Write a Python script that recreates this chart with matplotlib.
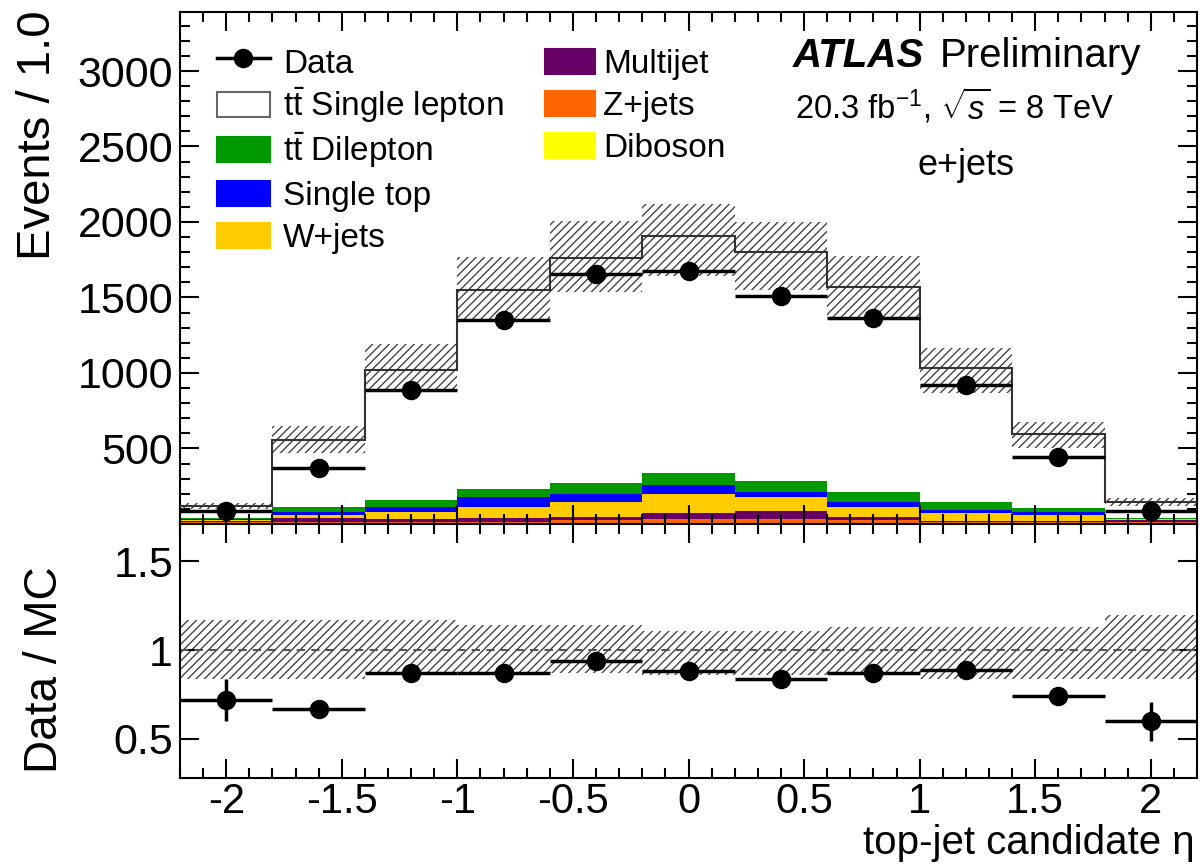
import numpy as np
import matplotlib
matplotlib.use("Agg")
from matplotlib import pyplot as plt
from matplotlib.patches import Patch, Rectangle
from matplotlib.lines import Line2D
from matplotlib.legend_handler import HandlerPatch
from matplotlib.ticker import MultipleLocator

plt.rcParams['font.family'] = ['Liberation Sans', 'DejaVu Sans']
plt.rcParams['mathtext.fontset'] = 'custom'
plt.rcParams['mathtext.rm'] = 'Liberation Sans'
plt.rcParams['mathtext.it'] = 'Liberation Sans:italic'
plt.rcParams['hatch.linewidth'] = 1.0

# bins of top-jet candidate eta
bin_edges = [-2.2, -1.8, -1.4, -1.0, -0.6, -0.2, 0.2, 0.6, 1.0, 1.4, 1.8, 2.2]
bin_centers = [-2.0, -1.6, -1.2, -0.8, -0.4, 0.0, 0.4, 0.8, 1.2, 1.6, 2.0]

# MC contributions per bin (stacked bottom -> top)
diboson  = [3, 4, 5, 6, 7, 8, 7, 6, 5, 4, 3]
zjets    = [7, 11, 10, 9, 19, 23, 26, 20, 10, 11, 9]
multijet = [12, 23, 18, 23, 22, 40, 55, 18, 7, 5, 13]
wjets    = [5, 22, 44, 77, 100, 126, 93, 71, 49, 40, 5]
singletop = [6, 17, 38, 66, 49, 61, 33, 33, 22, 17, 5]
ttbar_dilep = [7, 34, 44, 49, 77, 82, 73, 66, 55, 27, 7]
ttbar_ljets = [77, 445, 861, 1320, 1488, 1567, 1514, 1356, 885, 492, 100]

# relative MC uncertainty (up, down)
unc_up = [0.17, 0.17, 0.17, 0.14, 0.14, 0.11, 0.11, 0.13, 0.13, 0.13, 0.20]
unc_dn = [0.16, 0.16, 0.13, 0.13, 0.13, 0.14, 0.14, 0.14, 0.16, 0.16, 0.16]

# data
data = [84, 373, 887, 1349, 1656, 1678, 1513, 1366, 919, 441, 85]
ratio = [0.72, 0.67, 0.87, 0.87, 0.94, 0.88, 0.84, 0.87, 0.89, 0.74, 0.60]
ratio_err = [0.12, 0.03, 0.02, 0.02, 0.02, 0.02, 0.02, 0.02, 0.02, 0.03, 0.11]

tt = r"t$\bar{\rm t}$"
components = [
    ("Diboson", diboson, "#ffff00"),
    ("Z+jets", zjets, "#ff6600"),
    ("Multijet", multijet, "#660066"),
    ("W+jets", wjets, "#ffcc00"),
    ("Single top", singletop, "#0000ff"),
    (tt + " Dilepton", ttbar_dilep, "#009900"),
    (tt + " Single lepton", ttbar_ljets, "white"),
]

fig = plt.figure(figsize=(12, 8.66), dpi=100)
ax = fig.add_axes([0.15, 0.395, 0.8475, 0.591])
rax = fig.add_axes([0.15, 0.1016, 0.8475, 0.2934])

x = np.array(bin_centers)
bottom = np.zeros(len(x))
for name, vals, col in components:
    ax.bar(x, vals, width=0.4, bottom=bottom, color=col, linewidth=0, zorder=1)
    bottom = bottom + np.array(vals)
total = bottom

ax.stairs(total, bin_edges, baseline=None, color="#333333", lw=1.5, zorder=3)
up = total * (1 + np.array(unc_up))
dn = total * (1 - np.array(unc_dn))
ax.bar(x, up - dn, width=0.4, bottom=dn, fill=False, hatch="////",
       edgecolor="#444444", linewidth=0, zorder=2)

ax.errorbar(x, data, xerr=0.2, yerr=np.sqrt(data), fmt="o", color="black",
            ms=13, elinewidth=2.5, capsize=0, zorder=5)

ax.set_xlim(-2.2, 2.2)
ax.set_ylim(0, 3390)
ax.xaxis.set_major_locator(MultipleLocator(0.5))
ax.xaxis.set_minor_locator(MultipleLocator(0.1))
ax.yaxis.set_minor_locator(MultipleLocator(100))
ax.set_yticks([500, 1000, 1500, 2000, 2500, 3000])
ax.tick_params(labelbottom=False)

# ratio panel
rax.bar(x, np.array(unc_up) + np.array(unc_dn), width=0.4, bottom=1 - np.array(unc_dn),
        fill=False, hatch="////", edgecolor="#444444", linewidth=0, zorder=1)
rax.axhline(1.0, color="#555555", lw=1.5, ls=(0, (4, 3)), zorder=2)
rax.errorbar(x, ratio, xerr=0.2, yerr=ratio_err, fmt="o", color="black",
             ms=13, elinewidth=2.5, capsize=0, zorder=5)
rax.set_xlim(-2.2, 2.2)
rax.set_ylim(0.28, 1.71)
rax.xaxis.set_minor_locator(MultipleLocator(0.1))
rax.set_yticks([0.5, 1.0, 1.5])
rax.set_yticklabels(["0.5", "1", "1.5"])
rax.set_xticks([-2, -1.5, -1, -0.5, 0, 0.5, 1, 1.5, 2])
rax.set_xticklabels(["-2", "-1.5", "-1", "-0.5", "0", "0.5", "1", "1.5", "2"])

for a in (ax, rax):
    for s in a.spines.values():
        s.set_linewidth(1.5)
    a.tick_params(which="both", direction="in", top=True, right=True,
                  labelsize=31, width=1.5, pad=5)
    a.tick_params(which="major", length=14)
    a.tick_params(which="minor", length=7)
rax.tick_params(axis="y", which="minor", left=False, right=False)
rax.tick_params(axis="x", labelsize=30, pad=3)


# legend boxes smaller than the row height so every row has the same spacing
def small_box(legend, orig_handle, xdescent, ydescent, width, height, fontsize):
    shrink = 0.16 * height
    return Rectangle((-xdescent, -ydescent + shrink), width, height - 2 * shrink)


h_data = Line2D([], [], color="black", marker="o", ms=13, lw=2.5)
h = {}
for name, vals, col in components:
    h[name] = Patch(facecolor=col, edgecolor="#666666" if col == "white" else col, lw=1.5)
hmap = {Patch: HandlerPatch(patch_func=small_box)}
left_names = [tt + " Single lepton", tt + " Dilepton", "Single top", "W+jets"]
leg1 = ax.legend([h_data] + [h[n] for n in left_names], ["Data"] + left_names,
                 loc="upper left", bbox_to_anchor=(0.036, 0.939), frameon=False,
                 fontsize=24, handlelength=1.6, handleheight=1.3, handletextpad=0.4,
                 labelspacing=0.17, borderpad=0, borderaxespad=0, handler_map=hmap)
ax.add_artist(leg1)
right_names = ["Multijet", "Z+jets", "Diboson"]
ax.legend([h[n] for n in right_names], right_names,
          loc="upper left", bbox_to_anchor=(0.359, 0.939), frameon=False,
          fontsize=24, handlelength=1.5, handleheight=1.3, handletextpad=0.25,
          labelspacing=0.17, borderpad=0, borderaxespad=0, handler_map=hmap)

ax.text(0.603, 0.893, "ATLAS", transform=ax.transAxes, fontsize=29,
        fontweight="bold", fontstyle="italic", va="baseline")
ax.text(0.747, 0.893, "Preliminary", transform=ax.transAxes, fontsize=29, va="baseline")
ax.text(0.605, 0.793, r"20.3 fb$^{-1}$, $\sqrt{s}$ = 8 TeV", transform=ax.transAxes,
        fontsize=23.5, va="baseline")
ax.text(0.773, 0.682, "e+jets", transform=ax.transAxes, fontsize=26,
        ha="center", va="baseline")

fig.text(38 / 1200, 1 - 10 / 866, "Events / 1.0", rotation=90, fontsize=34,
         ha="center", va="top")
fig.text(45 / 1200, 1 - 670 / 866, "Data / MC", rotation=90, fontsize=33,
         ha="center", va="center")
fig.text(1195 / 1200, 1 - 843 / 866, "top-jet candidate η", fontsize=29,
         ha="right", va="center")

fig.savefig("out.png", dpi=100)
